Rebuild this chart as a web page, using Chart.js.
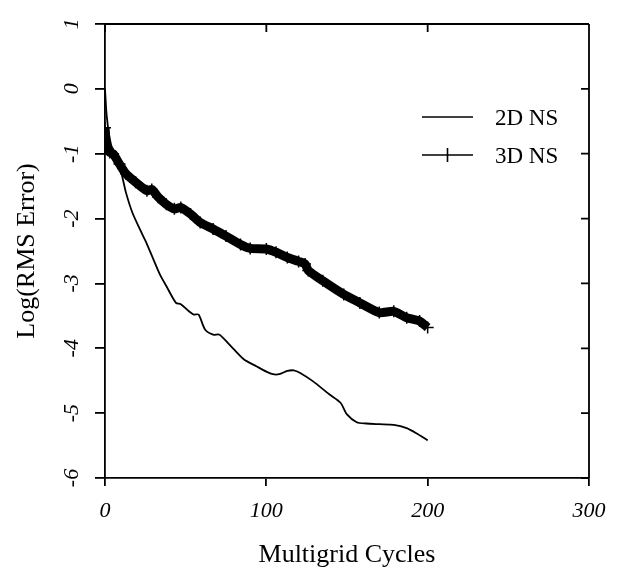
<!DOCTYPE html>
<html>
<head>
<meta charset="utf-8">
<script src="https://cdn.jsdelivr.net/npm/chart.js@4.4.1/dist/chart.umd.min.js"></script>
<style>
  html, body { margin: 0; padding: 0; background: #fff; }
  #wrap { width: 622px; height: 574px; }
</style>
</head>
<body>
<div id="wrap"><canvas id="chart"></canvas></div>
<script>
// Données (log10 de l'erreur RMS en fonction du nombre de cycles)
const cycles2D = [0, 1, 2.8, 4.8, 10, 13, 17, 22.5, 25.6, 30, 34, 38, 44, 47, 52, 55, 58, 62, 67, 71, 77, 86, 94, 100, 104, 108, 113, 117, 121, 129, 139, 146, 150, 156, 162, 170, 179, 187, 193, 200];
const err2D = [0.0, -0.4, -0.75, -0.95, -1.29, -1.6, -1.91, -2.21, -2.37, -2.63, -2.86, -3.04, -3.30, -3.32, -3.43, -3.48, -3.48, -3.71, -3.79, -3.79, -3.94, -4.17, -4.28, -4.36, -4.40, -4.40, -4.35, -4.34, -4.38, -4.51, -4.71, -4.84, -5.02, -5.14, -5.16, -5.17, -5.18, -5.23, -5.31, -5.42];

const cycles3D = [0, 1, 3, 5, 9, 13, 19, 26, 29, 33, 38, 43, 47, 53, 59, 67, 75, 84, 90, 100, 106, 113, 120, 124, 126, 135, 148, 158, 170, 179, 187, 195, 200];
const err3D = [-0.6, -0.9, -0.98, -1.0, -1.16, -1.31, -1.44, -1.57, -1.55, -1.67, -1.78, -1.85, -1.83, -1.93, -2.06, -2.16, -2.27, -2.40, -2.46, -2.47, -2.52, -2.60, -2.66, -2.70, -2.80, -2.96, -3.17, -3.30, -3.45, -3.43, -3.53, -3.58, -3.68];

const seriesNames = ['2D NS', '3D NS'];
const xTicks = [0, 100, 200, 300];
const yTicks = [1, 0, -1, -2, -3, -4, -5, -6];

const SERIF = '"Liberation Serif", "DejaVu Serif", serif';

function toXY(xs, ys) { return xs.map((x, i) => ({ x, y: ys[i] })); }

// Cadre complet, graduations intérieures haut/droite, étiquettes Y pivotées, légende
const framePlugin = {
  id: 'frame',
  afterDraw(chart) {
    const { ctx, chartArea: a, scales } = chart;
    const xs = scales.x, ys = scales.y;
    ctx.save();
    ctx.strokeStyle = '#000';
    ctx.lineWidth = 1.8;
    ctx.beginPath();
    ctx.moveTo(a.left, a.top); ctx.lineTo(a.right, a.top);
    ctx.moveTo(a.right, a.top); ctx.lineTo(a.right, a.bottom);
    for (const v of xTicks) {
      const px = xs.getPixelForValue(v);
      ctx.moveTo(px, a.top); ctx.lineTo(px, a.top + 8);
    }
    for (const v of yTicks) {
      const py = ys.getPixelForValue(v);
      ctx.moveTo(a.right, py); ctx.lineTo(a.right - 8, py);
    }
    ctx.stroke();

    // étiquettes de l'axe Y, tournées de 90°
    ctx.fillStyle = '#000';
    ctx.font = 'italic 22px ' + SERIF;
    ctx.textAlign = 'center';
    ctx.textBaseline = 'middle';
    for (const v of yTicks) {
      const py = ys.getPixelForValue(v);
      ctx.save();
      ctx.translate(a.left - 33, py);
      ctx.rotate(-Math.PI / 2);
      ctx.fillText(String(v), 0, 0);
      ctx.restore();
    }

    // légende
    const lx0 = a.left + 317, lx1 = a.left + 368, tx = a.left + 390;
    const rows = [a.top + 93, a.top + 131];
    ctx.lineWidth = 1.6;
    ctx.font = '23px ' + SERIF;
    ctx.textAlign = 'left';
    seriesNames.forEach((name, i) => {
      const y = rows[i];
      ctx.beginPath();
      ctx.moveTo(lx0, y); ctx.lineTo(lx1, y);
      if (i === 1) {
        const cx = (lx0 + lx1) / 2;
        ctx.moveTo(cx, y - 7); ctx.lineTo(cx, y + 7);
      }
      ctx.stroke();
      ctx.fillText(name, tx, y + 2);
    });
    ctx.restore();
  }
};

new Chart(document.getElementById('chart').getContext('2d'), {
  type: 'line',
  data: {
    datasets: [
      {
        label: seriesNames[0],
        data: toXY(cycles2D, err2D),
        borderColor: '#000',
        borderWidth: 1.8,
        pointRadius: 0,
        tension: 0.25,
        fill: false
      },
      {
        label: seriesNames[1],
        data: toXY(cycles3D, err3D),
        borderColor: '#000',
        borderWidth: 9,
        pointStyle: 'cross',
        pointRadius: 6,
        pointBorderWidth: 1.5,
        pointBorderColor: '#000',
        tension: 0.2,
        fill: false
      }
    ]
  },
  options: {
    responsive: true,
    maintainAspectRatio: false,
    animation: false,
    devicePixelRatio: 1,
    layout: { padding: { left: 10, right: 33, top: 24, bottom: 0 } },
    plugins: {
      legend: { display: false },
      tooltip: { enabled: false }
    },
    scales: {
      x: {
        type: 'linear',
        min: 0, max: 300,
        afterFit: (s) => { s.height = 96; },
        afterBuildTicks: (s) => { s.ticks = xTicks.map(v => ({ value: v })); },
        border: { display: true, color: '#000', width: 1.8 },
        grid: { drawOnChartArea: false, color: '#000', lineWidth: 1.8, tickLength: 8 },
        ticks: { color: '#000', padding: 12, maxRotation: 0, font: { family: SERIF, size: 22, style: 'italic' } },
        title: { display: true, text: 'Multigrid Cycles', color: '#000', padding: { top: 0, bottom: 3 }, font: { family: SERIF, size: 26 } }
      },
      y: {
        type: 'linear',
        min: -6, max: 1,
        afterFit: (s) => { s.width = 95; },
        afterBuildTicks: (s) => { s.ticks = yTicks.map(v => ({ value: v })); },
        border: { display: true, color: '#000', width: 1.8 },
        grid: { drawOnChartArea: false, color: '#000', lineWidth: 1.8, tickLength: 10 },
        ticks: { color: 'rgba(0,0,0,0)', font: { family: SERIF, size: 22, style: 'italic' } },
        title: { display: true, text: 'Log(RMS Error)', color: '#000', padding: { top: 2, bottom: 0 }, font: { family: SERIF, size: 26 } }
      }
    }
  },
  plugins: [framePlugin]
});
</script>
</body>
</html>
